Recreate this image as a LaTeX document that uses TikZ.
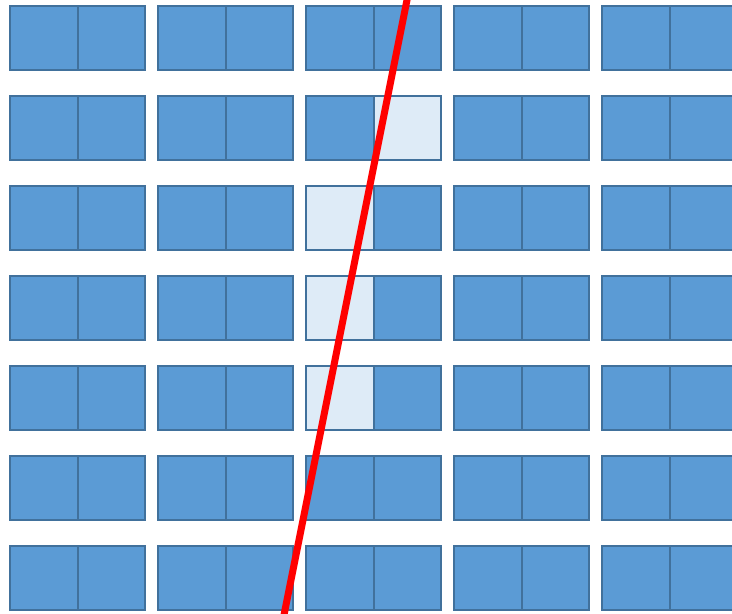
\documentclass[tikz,border=0pt]{standalone}
\definecolor{cellblue}{HTML}{5B9BD5}
\definecolor{cellborder}{HTML}{41719C}
\definecolor{celllight}{HTML}{DEEBF7}
\begin{document}
\begin{tikzpicture}[x=1pt,y=-1pt,
  cell/.style={draw=cellborder,line width=2pt,fill=cellblue},
  lightcell/.style={draw=cellborder,line width=2pt,fill=celllight}]
\useasboundingbox (0,0) rectangle (732,614);
\clip (0,0) rectangle (732,614);
\foreach \r in {0,...,6}{
  \foreach \p/\px in {0/10,1/158,2/306,3/454,4/602}{
    \foreach \h in {0,1}{
      \pgfmathtruncatemacro{\c}{2*\p+\h}
      \pgfmathsetmacro{\xa}{\px+\h*67.5}
      \pgfmathsetmacro{\ya}{6+90*\r}
      \def\sty{cell}
      \ifnum\r=1 \ifnum\c=5 \def\sty{lightcell}\fi\fi
      \ifnum\r=2 \ifnum\c=4 \def\sty{lightcell}\fi\fi
      \ifnum\r=3 \ifnum\c=4 \def\sty{lightcell}\fi\fi
      \ifnum\r=4 \ifnum\c=4 \def\sty{lightcell}\fi\fi
      \draw[\sty] (\xa,\ya) rectangle ++(67.5,64);
    }
  }
}
\draw[red,line width=7pt] (408,-5) -- (283,620);
\end{tikzpicture}
\end{document}
